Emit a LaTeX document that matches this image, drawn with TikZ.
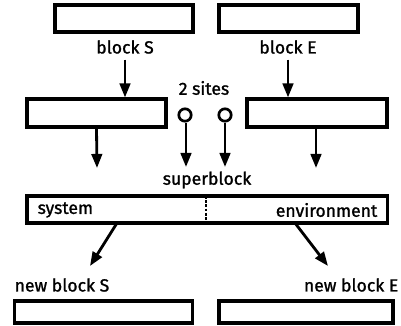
\documentclass[tikz,border=0pt]{standalone}
\usepackage{fontspec}
\setmainfont{Fira Sans}[FakeBold=1.2]
\usetikzlibrary{arrows.meta}
\begin{document}
\begin{tikzpicture}[x=0.025cm,y=-0.025cm,
        blk/.style={draw,line width=2.2pt,inner sep=0pt},
        site/.style={circle,draw,line width=1.9pt,inner sep=0pt,minimum size=0.31cm},
        lbl/.style={font=\fontsize{12.5}{14}\selectfont,inner sep=1pt},
        arr/.style={-{Triangle[length=10pt,width=7.5pt]},line width=2pt}]
    \useasboundingbox (0,0) rectangle (401,325);

    % old blocks
    \node[blk,minimum width=3.45cm,minimum height=0.675cm] (bS) at (124,18.5) {};
    \node[blk,minimum width=3.475cm,minimum height=0.675cm] (bE) at (288.5,18.5) {};
    \node[lbl] (lS) at (125,47) {block S};
    \node[lbl] (lE) at (288,47) {block E};

    % enlarged blocks and the two sites
    \node[blk,minimum width=3.475cm,minimum height=0.7cm] (mS) at (96.5,113) {};
    \node[blk,minimum width=3.5cm,minimum height=0.7cm] (mE) at (317,113) {};
    \node[site] (c1) at (185,115) {};
    \node[site] (c2) at (225,115) {};
    \node[lbl] (two) at (204,88) {2 sites};

    \draw[arr,shorten <=3pt] (lS.south) -- (lS.south |- mS.north);
    \draw[arr,shorten <=3pt] (lE.south) -- (lE.south |- mE.north);

    % superblock
    \node[lbl] (sl) at (207,180) {superblock};
    \node[blk,minimum width=9cm,minimum height=0.675cm] (sb) at (207,209.5) {};
    \draw[dashed,line width=1pt,dash pattern=on 2pt off 1pt] (206,196) -- (206,223);
    \node[lbl,anchor=west] (sys) at (36,210) {system};
    \node[lbl,anchor=east] (env) at (379,210) {environment};

    \coordinate (eS) at (97,168);
    \coordinate (e1) at (186,167);
    \coordinate (e2) at (225,167);
    \coordinate (eE) at (316,168);
    \draw[arr] (mS.south) -- (eS);
    \draw[arr] (c1.south) ++(1,0) -- (e1);
    \draw[arr] (c2.south) -- (e2);
    \draw[arr] (eE |- mE.south) -- (eE);

    % new blocks
    \coordinate (oS) at (117,223);
    \coordinate (oE) at (295,223);
    \coordinate (nS) at (90,266);
    \coordinate (nE) at (328,266);
    \draw[arr] (oS) -- (nS);
    \draw[arr] (oE) -- (nE);

    \node[lbl,anchor=west] (lnS) at (13,285) {new block S};
    \node[lbl,anchor=east] (lnE) at (400,285) {new block E};
    \node[blk,minimum width=4.45cm,minimum height=0.55cm] (nbS) at (103.5,312) {};
    \node[blk,minimum width=4.35cm,minimum height=0.55cm] (nbE) at (306,312) {};
\end{tikzpicture}
\end{document}
